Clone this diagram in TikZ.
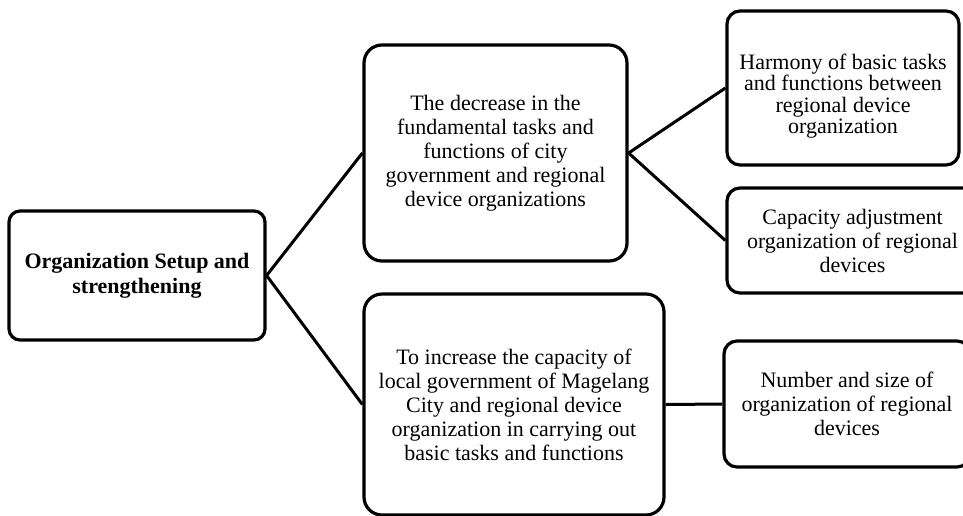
\documentclass[tikz,border=0pt]{standalone}
\usepackage{fontspec}
\setmainfont{Liberation Serif}
\begin{document}
\begin{tikzpicture}[x=1pt,y=-1pt,
  box/.style={draw=black, line width=3.2pt, rounded corners=13pt, fill=white,
    align=center, inner sep=0pt, font=\fontsize{22}{24}\selectfont},
  link/.style={draw=black, line width=3pt}]
\useasboundingbox (0,0) rectangle (963,515);
\clip (0,0) rectangle (963,515);
\node[box, rounded corners=11pt, minimum width=256pt, minimum height=129pt, font=\fontsize{22}{25}\selectfont\bfseries]
  (root) at (137,275.5) {Organization Setup and\\strengthening};
\node[box, rounded corners=18pt, minimum width=263pt, minimum height=216pt]
  (dec) at (495.5,153) {The decrease in the\\fundamental tasks and\\functions of city\\government and regional\\device organizations};
\node[box, rounded corners=18pt, minimum width=300pt, minimum height=221pt]
  (inc) at (514,404.5) {To increase the capacity of\\local government of Magelang\\City and regional device\\organization in carrying out\\basic tasks and functions};
\node[box, minimum width=232pt, minimum height=154pt]
  (harm) at (843,88) {\parbox{230pt}{\centering\fontsize{22}{21.5}\selectfont\vspace*{16pt}Harmony of basic tasks\\and functions between\\regional device\\organization}};
\node[box, minimum width=251pt, minimum height=105pt]
  (cap) at (852.5,240.5) {Capacity adjustment\\organization of regional\\devices};
\node[box, minimum width=246pt, minimum height=126pt]
  (num) at (847,404) {Number and size of\\organization of regional\\devices};
\draw[link] (root.east) -- (dec.west);
\draw[link] (root.east) -- (inc.west);
\draw[link] (dec.east) -- (harm.west);
\draw[link] (dec.east) -- (cap.west);
\draw[link] (inc.east) -- (num.west);
\end{tikzpicture}
\end{document}
